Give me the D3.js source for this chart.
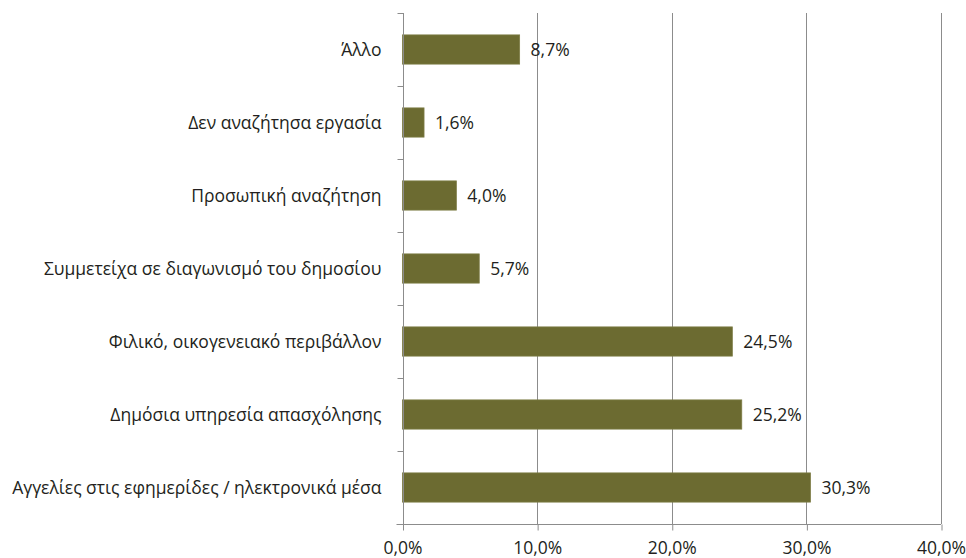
<!DOCTYPE html>
<html>
<head>
<meta charset="utf-8">
<script src="https://cdn.jsdelivr.net/npm/d3@7"></script>
<style>
  html, body { margin: 0; padding: 0; background: #fff; }
  svg text { font-family: "Open Sans", "Noto Sans", sans-serif; fill: #231f20; }
</style>
</head>
<body>
<svg id="chart" width="966" height="558"></svg>
<script>
// Categories, top to bottom
const categories = [
  "Άλλο",
  "Δεν αναζήτησα εργασία",
  "Προσωπική αναζήτηση",
  "Συμμετείχα σε διαγωνισμό του δημοσίου",
  "Φιλικό, οικογενειακό περιβάλλον",
  "Δημόσια υπηρεσία απασχόλησης",
  "Αγγελίες στις εφημερίδες / ηλεκτρονικά μέσα"
];
// Share of respondents (%)
const values = [8.7, 1.6, 4.0, 5.7, 24.5, 25.2, 30.3];
const xTicks = [0, 10, 20, 30, 40];

const fmt = v => v.toFixed(1).replace(".", ",") + "%";
const FS = 17.5;

const svg = d3.select("#chart");
const margin = { left: 402.5, right: 25, top: 13, bottom: 34 };
const W = 966, H = 558;

const x = d3.scaleLinear().domain([0, 40]).range([margin.left, W - margin.right]);
const y = d3.scaleBand().domain(categories).range([margin.top, H - margin.bottom])
  .paddingInner(0.6).paddingOuter(0.3);

// vertical gridlines
svg.append("g").selectAll("line").data(xTicks.slice(1)).join("line")
  .attr("x1", d => Math.round(x(d)) + 0.5).attr("x2", d => Math.round(x(d)) + 0.5)
  .attr("y1", margin.top).attr("y2", H - margin.bottom)
  .attr("stroke", "#8c8c8c").attr("stroke-width", 1);

// bars
svg.append("g").selectAll("rect").data(values).join("rect")
  .attr("x", x(0))
  .attr("y", (d, i) => y(categories[i]))
  .attr("width", d => x(d) - x(0))
  .attr("height", y.bandwidth())
  .attr("fill", "#6c6b31")
  .attr("stroke", "#7d7c45").attr("stroke-width", 0.8);

// value labels
svg.append("g").selectAll("text").data(values).join("text")
  .attr("x", d => x(d) + 11)
  .attr("y", (d, i) => y(categories[i]) + y.bandwidth() / 2)
  .attr("dy", "0.36em")
  .attr("font-size", FS)
  .text(d => fmt(d));

// x axis
const xAxis = d3.axisBottom(x).tickValues(xTicks).tickFormat(d => fmt(d)).tickSize(6).tickPadding(6);
const gx = svg.append("g").attr("transform", `translate(0,${H - margin.bottom + 0.5})`).call(xAxis);
gx.select(".domain").attr("stroke", "#8c8c8c").attr("d", `M${x(0) - 6},0H${x(40)}`);
gx.selectAll(".tick line").attr("stroke", "#8c8c8c")
  .attr("transform", "translate(0.5,0)");
gx.selectAll(".tick text").attr("font-size", FS).attr("font-family", null).attr("fill", null).attr("dy", "1em");

// y axis with ticks at band boundaries
const gy = svg.append("g").attr("transform", `translate(${Math.round(x(0)) + 0.5},0)`);
gy.append("line").attr("y1", margin.top).attr("y2", H - margin.bottom).attr("stroke", "#8c8c8c");
const bounds = d3.range(categories.length + 1).map(i => margin.top + i * (H - margin.top - margin.bottom) / categories.length);
gy.selectAll(".yt").data(bounds).join("line").attr("class", "yt")
  .attr("x1", -6).attr("x2", 0)
  .attr("y1", d => Math.round(d) + 0.5).attr("y2", d => Math.round(d) + 0.5)
  .attr("stroke", "#8c8c8c");
gy.selectAll("text").data(categories).join("text")
  .attr("x", -22)
  .attr("y", d => y(d) + y.bandwidth() / 2)
  .attr("dy", "0.36em")
  .attr("text-anchor", "end")
  .attr("font-size", FS)
  .text(d => d);
</script>
</body>
</html>
